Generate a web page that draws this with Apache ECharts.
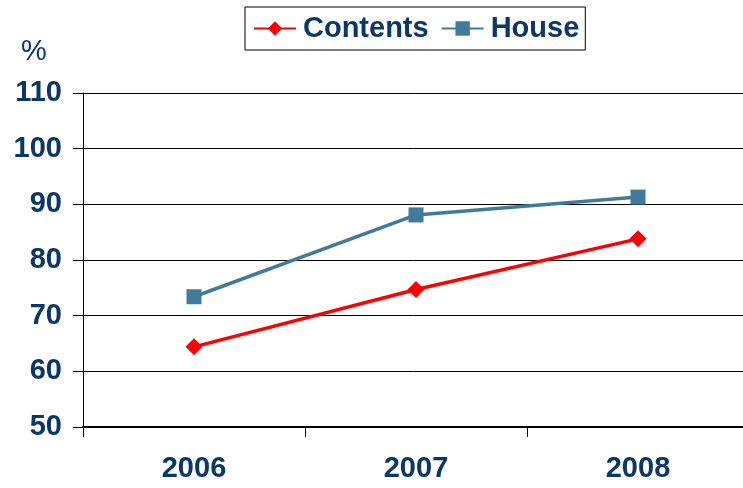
<!DOCTYPE html>
<html>
<head>
<meta charset="utf-8">
<script src="https://cdn.jsdelivr.net/npm/echarts@6/dist/echarts.min.js"></script>
<style>
    html, body { margin: 0; padding: 0; background: #fff; }
    #chart { width: 743px; height: 488px; }
</style>
</head>
<body>
<div id="chart"></div>
<script>
const years = ['2006', '2007', '2008'];
const contents = [64.4, 74.7, 83.8];
const house = [73.4, 88.1, 91.3];
const yTicks = { min: 50, max: 110, interval: 10 };

const navy = '#0B3668';
const font = 'Arial, "Liberation Sans", sans-serif';

const chart = echarts.init(document.getElementById('chart'));
chart.setOption({
    backgroundColor: '#fff',
    animation: false,
    legend: {
        top: 7,
        left: 245,
        itemWidth: 42,
        itemHeight: 18,
        itemGap: 12,
        padding: [7, 6, 7, 8],
        borderColor: '#000',
        borderWidth: 1,
        textStyle: { color: navy, fontSize: 29, fontWeight: 'bold', fontFamily: font, padding: [0, 0, 0, 2] },
        data: ['Contents', 'House'],
    },
    grid: { left: 83, width: 666, top: 93, bottom: 61, outerBoundsMode: 'none' },
    xAxis: {
        type: 'category',
        data: years,
        boundaryGap: true,
        axisLine: { lineStyle: { color: '#000', width: 2 } },
        axisTick: { show: true, length: 10, lineStyle: { color: '#000' } },
        axisLabel: { color: navy, fontSize: 29, fontWeight: 'bold', fontFamily: font, margin: 27 },
    },
    yAxis: {
        type: 'value',
        min: yTicks.min,
        max: yTicks.max,
        interval: yTicks.interval,
        name: '%',
        nameLocation: 'end',
        nameGap: 27,
        nameTextStyle: { color: navy, fontSize: 29, fontFamily: font, align: 'center', padding: [0, 0, 0, -98] },
        axisLine: { show: true, lineStyle: { color: '#000' } },
        axisTick: { show: true, length: 10, lineStyle: { color: '#000' } },
        axisLabel: { color: navy, fontSize: 29, fontWeight: 'bold', fontFamily: font, margin: 21 },
        splitLine: { lineStyle: { color: '#000', width: 1 } },
    },
    series: [
        {
            name: 'Contents',
            type: 'line',
            data: contents,
            symbol: 'diamond',
            symbolSize: 17,
            lineStyle: { color: '#FF0000', width: 3.5 },
            itemStyle: { color: '#FF0000' },
        },
        {
            name: 'House',
            type: 'line',
            data: house,
            symbol: 'rect',
            symbolSize: 15,
            lineStyle: { color: '#417B9B', width: 3.5 },
            itemStyle: { color: '#417B9B' },
        },
    ],
});
</script>
</body>
</html>
